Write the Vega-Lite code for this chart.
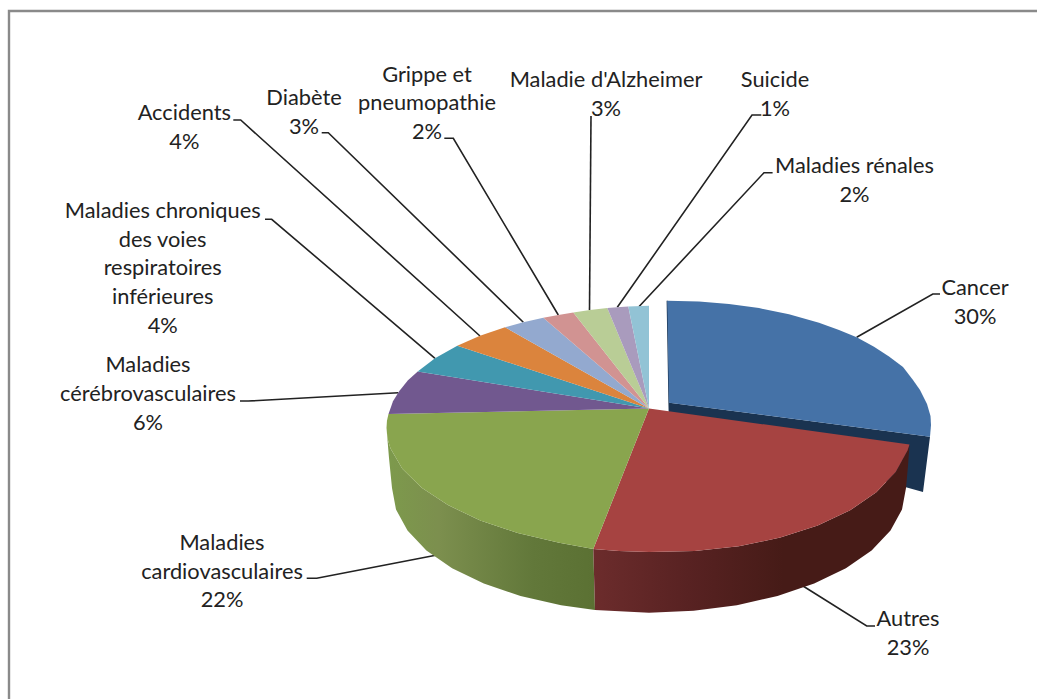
{
  "$schema": "https://vega.github.io/schema/vega-lite/v6.json",
  "width": 1037,
  "height": 699,
  "padding": 0,
  "autosize": "none",
  "background": "white",
  "view": {"stroke": null},
  "projection": {"type": "identity", "reflectY": true, "scale": 1, "translate": [649, 408]},
  "datasets": {
    "faces": [
      {"type": "Feature", "properties": {"cause": "Cancer", "pct": 30}, "geometry": {"type": "Polygon", "coordinates": [[[20,5.3],[18.3,107.3],[50,106.5],[80,104],[110,99.9],[140,93.7],[170,85.3],[190,78.1],[207.7,70.7],[225,61.2],[240,51.4],[254,41],[264,28],[271,18],[278,4],[281.5,-8],[282,-17],[281,-28.7],[20,5.3]]]}},
      {"type": "Feature", "properties": {"cause": "Autres", "pct": 23}, "geometry": {"type": "Polygon", "coordinates": [[[0,-0.5],[260.5,-36.5],[258.5,-42.4],[246.7,-64.1],[227.3,-84.3],[201.1,-102.3],[168.7,-117.6],[131.3,-129.6],[89.8,-138.2],[45.6,-143],[0,-144],[-30,-143],[-55.7,-141],[0,-0.5]]]}},
      {"type": "Feature", "properties": {"cause": "Maladies cardiovasculaires", "pct": 22}, "geometry": {"type": "Polygon", "coordinates": [[[0,-0.5],[-55.7,-141],[-89.8,-134.8],[-131.3,-125.1],[-168.7,-112.4],[-201.1,-97.1],[-227.3,-79.8],[-246.7,-60.7],[-258.5,-40.6],[-261.5,-30.4],[-262.5,-20],[-262,-12.5],[-260.5,-6],[0,-0.5]]]}},
      {"type": "Feature", "properties": {"cause": "Maladies cérébrovasculaires", "pct": 6}, "geometry": {"type": "Polygon", "coordinates": [[[0,-0.5],[-260.5,-6],[-256,6.7],[-249.7,17.1],[-241,27.8],[-231.3,36.5],[0,-0.5]]]}},
      {"type": "Feature", "properties": {"cause": "Maladies chroniques des voies respiratoires inférieures", "pct": 4}, "geometry": {"type": "Polygon", "coordinates": [[[0,-0.5],[-231.3,36.5],[-214,49.8],[-191.7,62.3],[0,-0.5]]]}},
      {"type": "Feature", "properties": {"cause": "Accidents", "pct": 4}, "geometry": {"type": "Polygon", "coordinates": [[[0,-0.5],[-191.7,62.3],[-169,72.2],[-144,80.7],[0,-0.5]]]}},
      {"type": "Feature", "properties": {"cause": "Diabète", "pct": 3}, "geometry": {"type": "Polygon", "coordinates": [[[0,-0.5],[-144,80.7],[-125.7,85.8],[-105.7,90.3],[0,-0.5]]]}},
      {"type": "Feature", "properties": {"cause": "Grippe et pneumopathie", "pct": 2}, "geometry": {"type": "Polygon", "coordinates": [[[0,-0.5],[-105.7,90.3],[-90.7,93.1],[-75.7,95.4],[0,-0.5]]]}},
      {"type": "Feature", "properties": {"cause": "Maladie d'Alzheimer", "pct": 3}, "geometry": {"type": "Polygon", "coordinates": [[[0,-0.5],[-75.7,95.4],[-59,98],[-41.7,100],[0,-0.5]]]}},
      {"type": "Feature", "properties": {"cause": "Suicide", "pct": 1}, "geometry": {"type": "Polygon", "coordinates": [[[0,-0.5],[-41.7,100],[-32,100.8],[-20.7,101.6],[0,-0.5]]]}},
      {"type": "Feature", "properties": {"cause": "Maladies rénales", "pct": 2}, "geometry": {"type": "Polygon", "coordinates": [[[0,-0.5],[-20.7,101.6],[0,102.3],[0,-0.5]]]}}
    ],
    "wallCancer": [
      {"type": "Feature", "properties": {"cause": "Cancer"}, "geometry": {"type": "Polygon", "coordinates": [[[17.6,107.3],[18.8,107.3],[20.5,5.3],[281,-28.7],[274,-84],[231,-72],[20,-20],[19.4,5.3],[17.6,107.3]]]}}
    ],
    "wallAutres": [
      {"type": "Feature", "properties": {"cause": "Autres"}, "geometry": {"type": "Polygon", "coordinates": [[[260.5,-36.5],[258.5,-42.4],[246.7,-64.1],[227.3,-84.3],[201.1,-102.3],[168.7,-117.6],[131.3,-129.6],[89.8,-138.2],[45.6,-143],[0,-144],[-30,-143],[-55.7,-141],[-54,-201.9],[0,-204.7],[44.6,-202.8],[87.9,-197.2],[128.5,-188],[165.2,-175.5],[196.9,-160.2],[222.6,-142.4],[241.5,-122.6],[253,-101.6],[257,-80],[259,-58],[260.5,-36.5]]]}}
    ],
    "wallCardio": [
      {"type": "Feature", "properties": {"cause": "Maladies cardiovasculaires"}, "geometry": {"type": "Polygon", "coordinates": [[[-55.7,-141],[-89.8,-134.8],[-131.3,-125.1],[-168.7,-112.4],[-201.1,-97.1],[-227.3,-79.8],[-246.7,-60.7],[-258.5,-40.6],[-261.5,-30.4],[-262.5,-20],[-260,-50],[-257,-80],[-253,-101.6],[-241.5,-122.6],[-222.6,-142.4],[-196.9,-160.2],[-165.2,-175.5],[-128.5,-188],[-87.9,-197.2],[-54,-201.9],[-55.7,-141]]]}}
    ],
    "leaders": [
      {"type": "Feature", "properties": {"cause": "Cancer"}, "geometry": {"type": "LineString", "coordinates": [[291,114],[283.8,114],[207.7,70.7]]}},
      {"type": "Feature", "properties": {"cause": "Autres"}, "geometry": {"type": "LineString", "coordinates": [[226,-218],[217.7,-218],[154,-178]]}},
      {"type": "Feature", "properties": {"cause": "Maladies cardiovasculaires"}, "geometry": {"type": "LineString", "coordinates": [[-342.3,-170.3],[-332.3,-170.3],[-212,-147]]}},
      {"type": "Feature", "properties": {"cause": "Maladies cérébrovasculaires"}, "geometry": {"type": "LineString", "coordinates": [[-409,7],[-400.7,7],[-250.7,15.3]]}},
      {"type": "Feature", "properties": {"cause": "Maladies chroniques des voies respiratoires inférieures"}, "geometry": {"type": "LineString", "coordinates": [[-384,188.7],[-377.3,188.7],[-214,49.7]]}},
      {"type": "Feature", "properties": {"cause": "Accidents"}, "geometry": {"type": "LineString", "coordinates": [[-415.7,288],[-408.3,288],[-169,72]]}},
      {"type": "Feature", "properties": {"cause": "Diabète"}, "geometry": {"type": "LineString", "coordinates": [[-327.3,275.3],[-320.7,275.3],[-125.7,85.8]]}},
      {"type": "Feature", "properties": {"cause": "Grippe et pneumopathie"}, "geometry": {"type": "LineString", "coordinates": [[-204.7,269.7],[-195.7,269.7],[-90.7,93]]}},
      {"type": "Feature", "properties": {"cause": "Maladie d'Alzheimer"}, "geometry": {"type": "LineString", "coordinates": [[-58,292],[-59.5,98]]}},
      {"type": "Feature", "properties": {"cause": "Suicide"}, "geometry": {"type": "LineString", "coordinates": [[112.3,293],[103,293],[-31.7,100.7]]}},
      {"type": "Feature", "properties": {"cause": "Maladies rénales"}, "geometry": {"type": "LineString", "coordinates": [[123.6,235.3],[115,235.3],[-10.1,101.3]]}}
    ],
    "frame": [
      {"type": "Feature", "properties": {"name": "cadre"}, "geometry": {"type": "LineString", "coordinates": [[-640,-291],[-640,397],[388,397]]}}
    ],
    "labels": [
      {"cause": "Cancer", "pct": 30, "label": "Cancer\n30%", "lon": 326, "lat": 113},
      {"cause": "Autres", "pct": 23, "label": "Autres\n23%", "lon": 259, "lat": -218},
      {"cause": "Maladies cardiovasculaires", "pct": 22, "label": "Maladies\ncardiovasculaires\n22%", "lon": -427, "lat": -142},
      {"cause": "Maladies cérébrovasculaires", "pct": 6, "label": "Maladies\ncérébrovasculaires\n6%", "lon": -501, "lat": 35.7},
      {"cause": "Maladies chroniques des voies respiratoires inférieures", "pct": 4, "label": "Maladies chroniques\ndes voies\nrespiratoires\ninférieures\n4%", "lon": -486.3, "lat": 190},
      {"cause": "Accidents", "pct": 4, "label": "Accidents\n4%", "lon": -464.7, "lat": 288},
      {"cause": "Diabète", "pct": 3, "label": "Diabète\n3%", "lon": -345, "lat": 303},
      {"cause": "Grippe et pneumopathie", "pct": 2, "label": "Grippe et\npneumopathie\n2%", "lon": -222, "lat": 326.3},
      {"cause": "Maladie d'Alzheimer", "pct": 3, "label": "Maladie d'Alzheimer\n3%", "lon": -43, "lat": 320.7},
      {"cause": "Suicide", "pct": 1, "label": "Suicide\n1%", "lon": 126, "lat": 320.7},
      {"cause": "Maladies rénales", "pct": 2, "label": "Maladies rénales\n2%", "lon": 205.5, "lat": 234.7}
    ]
  },
  "layer": [
    {
      "data": {"name": "frame"},
      "mark": {"type": "geoshape", "filled": false, "stroke": "#8a8a8a", "strokeWidth": 2.4}
    },
    {
      "data": {"name": "leaders"},
      "mark": {"type": "geoshape", "filled": false, "stroke": "#222222", "strokeWidth": 1.6}
    },
    {
      "data": {"name": "wallCancer"},
      "mark": {"type": "geoshape", "fill": "#1a3350", "stroke": null}
    },
    {
      "data": {"name": "wallCardio"},
      "mark": {
        "type": "geoshape",
        "stroke": null,
        "fill": {
          "gradient": "linear", "x1": 0, "x2": 1, "y1": 0, "y2": 0,
          "stops": [
            {"offset": 0, "color": "#7d9a4c"},
            {"offset": 0.25, "color": "#7c8f4e"},
            {"offset": 0.7, "color": "#62783a"},
            {"offset": 1, "color": "#5b7133"}
          ]
        }
      }
    },
    {
      "data": {"name": "wallAutres"},
      "mark": {
        "type": "geoshape",
        "stroke": null,
        "fill": {
          "gradient": "linear", "x1": 0, "x2": 1, "y1": 0, "y2": 0,
          "stops": [
            {"offset": 0, "color": "#6c2c2c"},
            {"offset": 0.3, "color": "#582222"},
            {"offset": 0.6, "color": "#461b17"},
            {"offset": 1, "color": "#461b17"}
          ]
        }
      }
    },
    {
      "data": {"name": "faces"},
      "mark": {"type": "geoshape", "stroke": null},
      "encoding": {
        "color": {
          "field": "properties.cause",
          "type": "nominal",
          "legend": null,
          "scale": {
            "domain": ["Cancer", "Autres", "Maladies cardiovasculaires", "Maladies cérébrovasculaires", "Maladies chroniques des voies respiratoires inférieures", "Accidents", "Diabète", "Grippe et pneumopathie", "Maladie d'Alzheimer", "Suicide", "Maladies rénales"],
            "range": ["#4572a7", "#a64341", "#89a54e", "#71588f", "#4198af", "#db843d", "#93a9cf", "#d19392", "#b9cd96", "#a99bbd", "#92c3d5"]
          }
        }
      }
    },
    {
      "data": {"name": "labels"},
      "mark": {"type": "text", "font": "Lato", "fontSize": 21.8, "lineBreak": "\n", "lineHeight": 28.7, "align": "center", "baseline": "alphabetic", "color": "#222222"},
      "encoding": {
        "longitude": {"field": "lon", "type": "quantitative"},
        "latitude": {"field": "lat", "type": "quantitative"},
        "text": {"field": "label", "type": "nominal"}
      }
    }
  ]
}
